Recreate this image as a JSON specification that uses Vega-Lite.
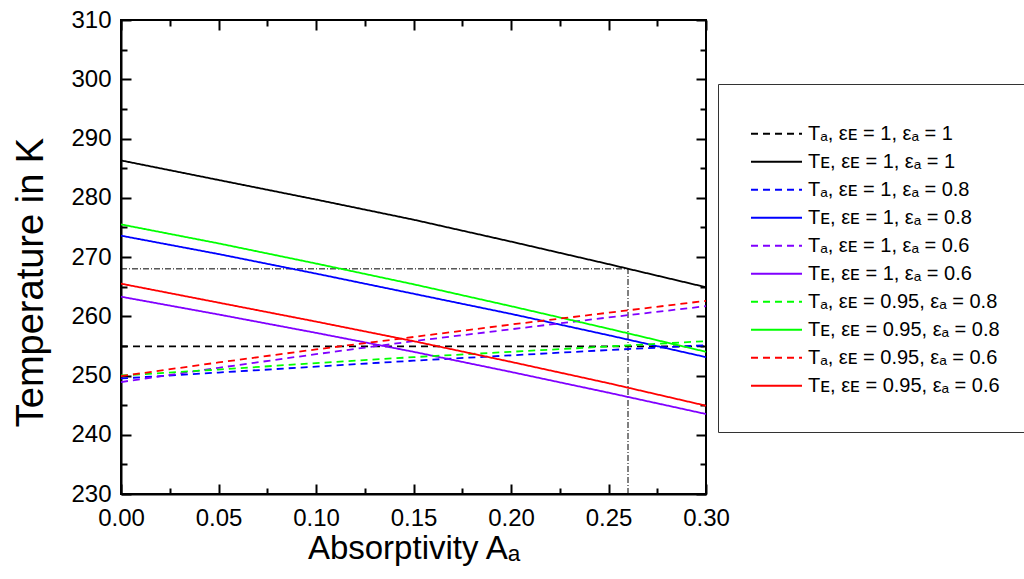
{
  "$schema": "https://vega.github.io/schema/vega-lite/v6.json",
  "width": 585,
  "height": 474,
  "autosize": {"type": "none"},
  "padding": {"left": 121, "top": 20, "right": 318, "bottom": 85},
  "background": "white",
  "config": {
    "font": "Liberation Sans",
    "view": {"stroke": "black", "strokeWidth": 2},
    "axis": {
      "grid": false,
      "domainColor": "black",
      "domainWidth": 2,
      "tickColor": "black",
      "tickWidth": 2,
      "labelColor": "black",
      "titleColor": "black",
      "labelFont": "Liberation Sans",
      "titleFont": "Liberation Sans",
      "titleFontWeight": "normal",
      "labelFlush": false,
      "labelOverlap": false
    },
    "legend": {
      "orient": "none",
      "legendX": 597,
      "legendY": 64,
      "titleFontSize": 3,
      "titlePadding": 1,
      "titleColor": "white",
      "labelFont": "Liberation Sans",
      "labelFontSize": 20,
      "labelColor": "black",
      "labelLimit": 400,
      "labelOffset": 5,
      "symbolType": "stroke",
      "symbolSize": 2601,
      "symbolStrokeWidth": 2,
      "rowPadding": 0,
      "clipHeight": 27.4,
      "padding": 32,
      "strokeColor": "#333333",
      "strokeWidth": 1,
      "fillColor": "white"
    }
  },
  "datasets": {
    "curves": [
      {"series": "Tₐ, εᴇ = 1, εₐ = 1", "A": 0, "T": 254.9},
      {"series": "Tₐ, εᴇ = 1, εₐ = 1", "A": 0.05, "T": 254.9},
      {"series": "Tₐ, εᴇ = 1, εₐ = 1", "A": 0.1, "T": 254.9},
      {"series": "Tₐ, εᴇ = 1, εₐ = 1", "A": 0.15, "T": 254.9},
      {"series": "Tₐ, εᴇ = 1, εₐ = 1", "A": 0.2, "T": 254.9},
      {"series": "Tₐ, εᴇ = 1, εₐ = 1", "A": 0.25, "T": 254.9},
      {"series": "Tₐ, εᴇ = 1, εₐ = 1", "A": 0.3, "T": 254.9},
      {"series": "Tᴇ, εᴇ = 1, εₐ = 1", "A": 0, "T": 286.3},
      {"series": "Tᴇ, εᴇ = 1, εₐ = 1", "A": 0.05, "T": 283.0},
      {"series": "Tᴇ, εᴇ = 1, εₐ = 1", "A": 0.1, "T": 279.7},
      {"series": "Tᴇ, εᴇ = 1, εₐ = 1", "A": 0.15, "T": 276.3},
      {"series": "Tᴇ, εᴇ = 1, εₐ = 1", "A": 0.2, "T": 272.6},
      {"series": "Tᴇ, εᴇ = 1, εₐ = 1", "A": 0.25, "T": 268.8},
      {"series": "Tᴇ, εᴇ = 1, εₐ = 1", "A": 0.3, "T": 264.9},
      {"series": "Tₐ, εᴇ = 1, εₐ = 0.8", "A": 0, "T": 249.5},
      {"series": "Tₐ, εᴇ = 1, εₐ = 0.8", "A": 0.05, "T": 250.5},
      {"series": "Tₐ, εᴇ = 1, εₐ = 0.8", "A": 0.1, "T": 251.5},
      {"series": "Tₐ, εᴇ = 1, εₐ = 0.8", "A": 0.15, "T": 252.5},
      {"series": "Tₐ, εᴇ = 1, εₐ = 0.8", "A": 0.2, "T": 253.4},
      {"series": "Tₐ, εᴇ = 1, εₐ = 0.8", "A": 0.25, "T": 254.3},
      {"series": "Tₐ, εᴇ = 1, εₐ = 0.8", "A": 0.3, "T": 255.1},
      {"series": "Tᴇ, εᴇ = 1, εₐ = 0.8", "A": 0, "T": 273.6},
      {"series": "Tᴇ, εᴇ = 1, εₐ = 0.8", "A": 0.05, "T": 270.5},
      {"series": "Tᴇ, εᴇ = 1, εₐ = 0.8", "A": 0.1, "T": 267.2},
      {"series": "Tᴇ, εᴇ = 1, εₐ = 0.8", "A": 0.15, "T": 263.8},
      {"series": "Tᴇ, εᴇ = 1, εₐ = 0.8", "A": 0.2, "T": 260.4},
      {"series": "Tᴇ, εᴇ = 1, εₐ = 0.8", "A": 0.25, "T": 256.8},
      {"series": "Tᴇ, εᴇ = 1, εₐ = 0.8", "A": 0.3, "T": 253.1},
      {"series": "Tₐ, εᴇ = 1, εₐ = 0.6", "A": 0, "T": 248.9},
      {"series": "Tₐ, εᴇ = 1, εₐ = 0.6", "A": 0.05, "T": 251.3},
      {"series": "Tₐ, εᴇ = 1, εₐ = 0.6", "A": 0.1, "T": 253.6},
      {"series": "Tₐ, εᴇ = 1, εₐ = 0.6", "A": 0.15, "T": 255.8},
      {"series": "Tₐ, εᴇ = 1, εₐ = 0.6", "A": 0.2, "T": 257.8},
      {"series": "Tₐ, εᴇ = 1, εₐ = 0.6", "A": 0.25, "T": 259.8},
      {"series": "Tₐ, εᴇ = 1, εₐ = 0.6", "A": 0.3, "T": 261.7},
      {"series": "Tᴇ, εᴇ = 1, εₐ = 0.6", "A": 0, "T": 263.3},
      {"series": "Tᴇ, εᴇ = 1, εₐ = 0.6", "A": 0.05, "T": 260.3},
      {"series": "Tᴇ, εᴇ = 1, εₐ = 0.6", "A": 0.1, "T": 257.2},
      {"series": "Tᴇ, εᴇ = 1, εₐ = 0.6", "A": 0.15, "T": 254.0},
      {"series": "Tᴇ, εᴇ = 1, εₐ = 0.6", "A": 0.2, "T": 250.6},
      {"series": "Tᴇ, εᴇ = 1, εₐ = 0.6", "A": 0.25, "T": 247.1},
      {"series": "Tᴇ, εᴇ = 1, εₐ = 0.6", "A": 0.3, "T": 243.5},
      {"series": "Tₐ, εᴇ = 0.95, εₐ = 0.8", "A": 0, "T": 250.0},
      {"series": "Tₐ, εᴇ = 0.95, εₐ = 0.8", "A": 0.05, "T": 251.0},
      {"series": "Tₐ, εᴇ = 0.95, εₐ = 0.8", "A": 0.1, "T": 252.1},
      {"series": "Tₐ, εᴇ = 0.95, εₐ = 0.8", "A": 0.15, "T": 253.1},
      {"series": "Tₐ, εᴇ = 0.95, εₐ = 0.8", "A": 0.2, "T": 254.0},
      {"series": "Tₐ, εᴇ = 0.95, εₐ = 0.8", "A": 0.25, "T": 254.9},
      {"series": "Tₐ, εᴇ = 0.95, εₐ = 0.8", "A": 0.3, "T": 255.8},
      {"series": "Tᴇ, εᴇ = 0.95, εₐ = 0.8", "A": 0, "T": 275.5},
      {"series": "Tᴇ, εᴇ = 0.95, εₐ = 0.8", "A": 0.05, "T": 272.3},
      {"series": "Tᴇ, εᴇ = 0.95, εₐ = 0.8", "A": 0.1, "T": 268.9},
      {"series": "Tᴇ, εᴇ = 0.95, εₐ = 0.8", "A": 0.15, "T": 265.4},
      {"series": "Tᴇ, εᴇ = 0.95, εₐ = 0.8", "A": 0.2, "T": 261.7},
      {"series": "Tᴇ, εᴇ = 0.95, εₐ = 0.8", "A": 0.25, "T": 257.9},
      {"series": "Tᴇ, εᴇ = 0.95, εₐ = 0.8", "A": 0.3, "T": 254.0},
      {"series": "Tₐ, εᴇ = 0.95, εₐ = 0.6", "A": 0, "T": 249.9},
      {"series": "Tₐ, εᴇ = 0.95, εₐ = 0.6", "A": 0.05, "T": 252.2},
      {"series": "Tₐ, εᴇ = 0.95, εₐ = 0.6", "A": 0.1, "T": 254.4},
      {"series": "Tₐ, εᴇ = 0.95, εₐ = 0.6", "A": 0.15, "T": 256.5},
      {"series": "Tₐ, εᴇ = 0.95, εₐ = 0.6", "A": 0.2, "T": 258.6},
      {"series": "Tₐ, εᴇ = 0.95, εₐ = 0.6", "A": 0.25, "T": 260.6},
      {"series": "Tₐ, εᴇ = 0.95, εₐ = 0.6", "A": 0.3, "T": 262.6},
      {"series": "Tᴇ, εᴇ = 0.95, εₐ = 0.6", "A": 0, "T": 265.5},
      {"series": "Tᴇ, εᴇ = 0.95, εₐ = 0.6", "A": 0.05, "T": 262.3},
      {"series": "Tᴇ, εᴇ = 0.95, εₐ = 0.6", "A": 0.1, "T": 259.1},
      {"series": "Tᴇ, εᴇ = 0.95, εₐ = 0.6", "A": 0.15, "T": 255.8},
      {"series": "Tᴇ, εᴇ = 0.95, εₐ = 0.6", "A": 0.2, "T": 252.3},
      {"series": "Tᴇ, εᴇ = 0.95, εₐ = 0.6", "A": 0.25, "T": 248.7},
      {"series": "Tᴇ, εᴇ = 0.95, εₐ = 0.6", "A": 0.3, "T": 244.9}
    ],
    "guides": [
      {"a": 0, "a2": 0.26, "t": 268, "t2": 268},
      {"a": 0.26, "a2": 0.26, "t": 230, "t2": 268}
    ]
  },
  "layer": [
    {
      "data": {"name": "guides"},
      "mark": {"type": "rule", "color": "black", "strokeWidth": 1, "strokeDash": [6, 2, 1, 2]},
      "encoding": {
        "x": {
          "field": "a", "type": "quantitative",
          "scale": {"domain": [0, 0.3], "nice": false, "zero": false},
          "axis": {
            "orient": "top",
            "values": [0, 0.025, 0.05, 0.075, 0.1, 0.125, 0.15, 0.175, 0.2, 0.225, 0.25, 0.275, 0.3],
            "labels": false,
            "title": null,
            "domain": false,
            "tickSize": {"condition": {"test": "round(datum.value*1000) % 50 === 0", "value": -10}, "value": -6}
          }
        },
        "x2": {"field": "a2"},
        "y": {
          "field": "t", "type": "quantitative",
          "scale": {"domain": [230, 310], "nice": false, "zero": false},
          "axis": {
            "orient": "right",
            "values": [230, 235, 240, 245, 250, 255, 260, 265, 270, 275, 280, 285, 290, 295, 300, 305, 310],
            "labels": false,
            "title": null,
            "domain": false,
            "tickSize": {"condition": {"test": "datum.value % 10 === 0", "value": -10}, "value": -6}
          }
        },
        "y2": {"field": "t2"}
      }
    },
    {
      "data": {"name": "curves"},
      "mark": {"type": "line", "strokeWidth": 1.8},
      "encoding": {
        "x": {
          "field": "A", "type": "quantitative",
          "scale": {"domain": [0, 0.3], "nice": false, "zero": false},
          "axis": {
            "orient": "bottom",
            "values": [0, 0.025, 0.05, 0.075, 0.1, 0.125, 0.15, 0.175, 0.2, 0.225, 0.25, 0.275, 0.3],
            "labelExpr": "round(datum.value*1000) % 50 === 0 ? format(datum.value, '.2f') : ''",
            "labelFontSize": 24,
            "labelPadding": 22,
            "title": "Absorptivity Aₐ",
            "titleFontSize": 33,
            "titleBaseline": "alphabetic",
            "titleY": 64,
            "tickSize": {"condition": {"test": "round(datum.value*1000) % 50 === 0", "value": -10}, "value": -6}
          }
        },
        "y": {
          "field": "T", "type": "quantitative",
          "scale": {"domain": [230, 310], "nice": false, "zero": false},
          "axis": {
            "orient": "left",
            "values": [230, 235, 240, 245, 250, 255, 260, 265, 270, 275, 280, 285, 290, 295, 300, 305, 310],
            "labelExpr": "datum.value % 10 === 0 ? datum.label : ''",
            "labelFontSize": 24,
            "labelPadding": 20,
            "title": "Temperature in K",
            "titleFontSize": 38,
            "titleAngle": -90,
            "titleAlign": "center",
            "titleBaseline": "alphabetic",
            "titleX": -79,
            "titleY": 262,
            "tickSize": {"condition": {"test": "datum.value % 10 === 0", "value": -10}, "value": -6}
          }
        },
        "color": {
          "field": "series", "type": "nominal",
          "title": " ",
          "scale": {
            "domain": ["Tₐ, εᴇ = 1, εₐ = 1", "Tᴇ, εᴇ = 1, εₐ = 1", "Tₐ, εᴇ = 1, εₐ = 0.8", "Tᴇ, εᴇ = 1, εₐ = 0.8", "Tₐ, εᴇ = 1, εₐ = 0.6", "Tᴇ, εᴇ = 1, εₐ = 0.6", "Tₐ, εᴇ = 0.95, εₐ = 0.8", "Tᴇ, εᴇ = 0.95, εₐ = 0.8", "Tₐ, εᴇ = 0.95, εₐ = 0.6", "Tᴇ, εᴇ = 0.95, εₐ = 0.6"],
            "range": ["#000000", "#000000", "#0000ff", "#0000ff", "#8000ff", "#8000ff", "#00ff00", "#00ff00", "#ff0000", "#ff0000"]
          }
        },
        "strokeDash": {
          "field": "series", "type": "nominal",
          "title": " ",
          "scale": {
            "domain": ["Tₐ, εᴇ = 1, εₐ = 1", "Tᴇ, εᴇ = 1, εₐ = 1", "Tₐ, εᴇ = 1, εₐ = 0.8", "Tᴇ, εᴇ = 1, εₐ = 0.8", "Tₐ, εᴇ = 1, εₐ = 0.6", "Tᴇ, εᴇ = 1, εₐ = 0.6", "Tₐ, εᴇ = 0.95, εₐ = 0.8", "Tᴇ, εᴇ = 0.95, εₐ = 0.8", "Tₐ, εᴇ = 0.95, εₐ = 0.6", "Tᴇ, εᴇ = 0.95, εₐ = 0.6"],
            "range": [[7, 5], [1, 0], [7, 5], [1, 0], [7, 5], [1, 0], [7, 5], [1, 0], [7, 5], [1, 0]]
          }
        }
      }
    }
  ],
  "resolve": {"axis": {"x": "independent", "y": "independent"}}
}
